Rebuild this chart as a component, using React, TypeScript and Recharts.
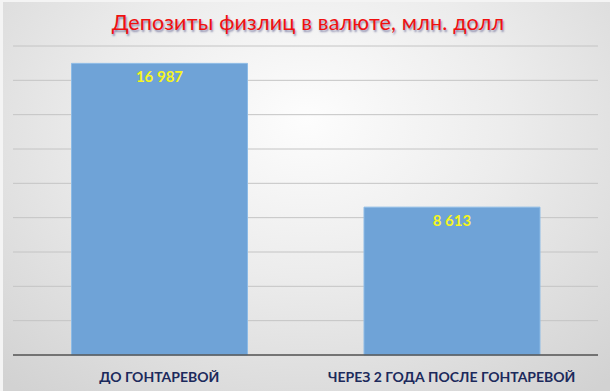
import React, { FC } from 'react';
import { BarChart, Bar, XAxis, YAxis, CartesianGrid, LabelList } from 'recharts';

const categories: string[] = ['ДО ГОНТАРЕВОЙ', 'ЧЕРЕЗ 2 ГОДА ПОСЛЕ ГОНТАРЕВОЙ'];
const deposits: number[] = [16987, 8613];
const valueLabels: string[] = ['16 987', '8 613'];
const yTicks: number[] = [0, 2000, 4000, 6000, 8000, 10000, 12000, 14000, 16000, 18000];

const title = 'Депозиты физлиц в валюте, млн. долл';

const App: FC = () => {
  const data = categories.map((name, i) => ({
    name,
    value: deposits[i],
    label: valueLabels[i],
  }));

  return (
    <div
      style={{
        position: 'absolute',
        left: 0,
        top: 0,
        width: 610,
        height: 391,
        background:
          'radial-gradient(ellipse 75% 90% at 50% 30%, #fdfdfd 0%, #ececec 45%, #d2d2d2 100%)',
        borderTop: '2px solid #f4f4f4',
        borderLeft: '3px solid #f4f4f4',
        boxSizing: 'border-box',
        overflow: 'hidden',
      }}
    >
      <div
        style={{
          position: 'absolute',
          left: 0,
          top: 7,
          width: 610,
          textAlign: 'center',
          fontFamily: 'Lato, "Open Sans", sans-serif',
          fontSize: 21.5,
          color: '#f01010',
          textShadow: '1px 2px 2px rgba(60,60,120,0.55)',
          letterSpacing: 0.2,
        }}
      >
        {title}
      </div>
      <div style={{ position: 'absolute', left: -3, top: -2 }}>
        <BarChart
          width={610}
          height={391}
          data={data}
          margin={{ top: 46, right: 12, bottom: 0, left: 13 }}
          barCategoryGap="20%"
        >
          <CartesianGrid vertical={false} stroke="#c4c4c4" strokeWidth={1} />
          <YAxis hide domain={[0, 18000]} ticks={yTicks} />
          <XAxis
            dataKey="name"
            height={36}
            axisLine={{ stroke: '#555', strokeWidth: 1.5 }}
            tickLine={false}
            tick={{
              fill: '#1c2a5c',
              fontSize: 14,
              fontWeight: 700,
              fontFamily: 'Lato, "Open Sans", sans-serif',
            }}
            tickMargin={11}
          />
          <Bar
            dataKey="value"
            fill="#6fa3d7"
            stroke="#8dbbe6"
            strokeWidth={1}
            isAnimationActive={false}
          >
            <LabelList
              dataKey="label"
              position="insideTop"
              offset={8}
              fill="#f5f520"
              fontSize={15}
              fontWeight={700}
              fontFamily='Lato, "Open Sans", sans-serif'
            />
          </Bar>
        </BarChart>
      </div>
    </div>
  );
};

export default App;
